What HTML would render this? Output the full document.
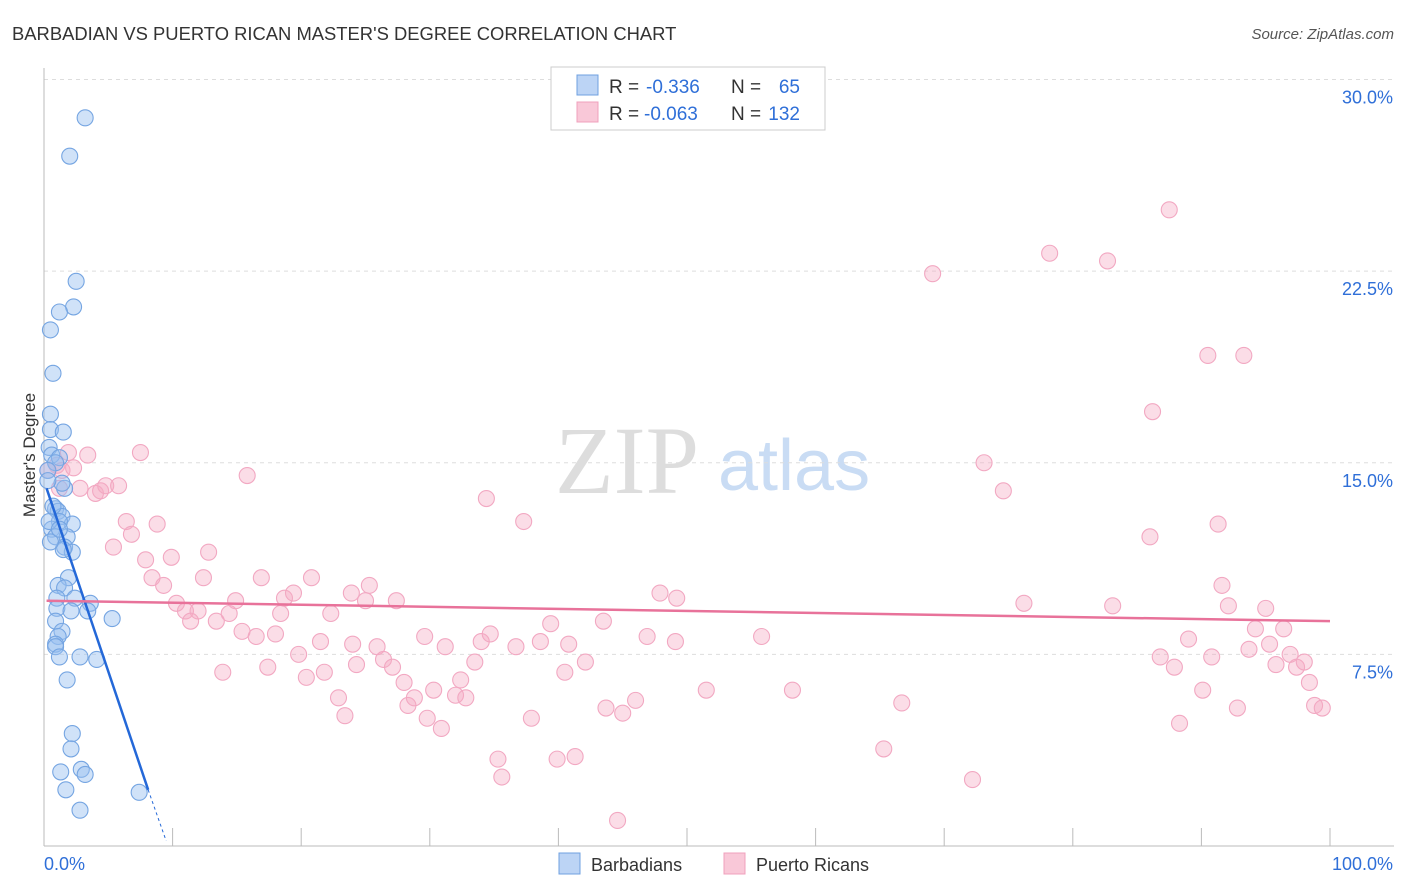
<!DOCTYPE html>
<html><head><meta charset="utf-8"><style>
body{margin:0;background:#fff;font-family:"Liberation Sans",sans-serif}
svg{display:block}
</style></head><body>
<svg width="1406" height="892" xmlns="http://www.w3.org/2000/svg">
<text x="12" y="40" font-size="18.4" fill="#333">BARBADIAN VS PUERTO RICAN MASTER'S DEGREE CORRELATION CHART</text>
<text x="1394" y="39" font-size="15" fill="#555" text-anchor="end" font-style="italic">Source: ZipAtlas.com</text>
<g>
<text x="555" y="493" font-size="96" font-family="Liberation Serif,serif" fill="#ddd">ZIP</text>
<text x="718" y="490" font-size="72" fill="#c9dcf4">atlas</text>
</g>
<g id="grid"></g>
<g id="axes"></g>
<g id="pts"></g>
<g id="trend"></g>
<text x="35" y="455" font-size="17" fill="#333" transform="rotate(-90 35 455)" text-anchor="middle">Master's Degree</text>
<g font-size="19">
<rect x="551" y="67" width="274" height="63" fill="#fff" stroke="#ccc"/>
<rect x="577" y="75" width="21" height="20" fill="#bcd4f5" stroke="#6fa0e0"/>
<rect x="577" y="102" width="21" height="20" fill="#f9c8d8" stroke="#f0a0bc"/>
<text x="609" y="93" fill="#333">R =</text><text x="646" y="93" fill="#2f6fd8">-0.336</text>
<text x="731" y="93" fill="#333">N =</text><text x="800" y="93" fill="#2f6fd8" text-anchor="end">65</text>
<text x="609" y="120" fill="#333">R =</text><text x="644" y="120" fill="#2f6fd8">-0.063</text>
<text x="731" y="120" fill="#333">N =</text><text x="800" y="120" fill="#2f6fd8" text-anchor="end">132</text>
</g>
<g>
<rect x="559" y="853" width="21" height="21" fill="#bcd4f5" stroke="#6fa0e0"/>
<text x="591" y="871" font-size="18" fill="#333">Barbadians</text>
<rect x="724" y="853" width="21" height="21" fill="#f9c8d8" stroke="#f0a0bc"/>
<text x="756" y="871" font-size="18" fill="#333">Puerto Ricans</text>
</g>
</svg>
<script>
const yTicks=[7.5,15,22.5,30];
const yTickLabels=["7.5%","15.0%","22.5%","30.0%"];
const xTickLabels=["0.0%","100.0%"];
const blueX=[3.2,2.0,2.5,2.3,1.2,0.5,0.7,0.5,0.5,1.5,0.4,0.6,1.2,0.9,0.3,1.6,1.4,0.9,1.1,1.4,2.2,1.2,0.6,0.9,1.8,1.6,2.2,1.5,0.5,1.9,1.1,1.6,1.0,2.4,3.6,1.0,2.1,3.4,0.9,5.3,1.4,1.1,0.9,0.9,2.8,1.2,4.1,1.8,2.2,2.1,1.3,2.9,3.2,1.7,2.8,7.4,0.3,0.7,0.4,1.2];
const blueY=[28.5,27.0,22.1,21.1,20.9,20.2,18.5,16.9,16.3,16.2,15.6,15.3,15.2,15.0,14.7,14.0,14.2,13.2,13.1,12.9,12.6,12.7,12.4,12.1,12.1,11.7,11.5,11.6,11.9,10.5,10.2,10.1,9.7,9.7,9.5,9.3,9.2,9.2,8.8,8.9,8.4,8.2,7.9,7.8,7.4,7.4,7.3,6.5,4.4,3.8,2.9,3.0,2.8,2.2,1.4,2.1,14.3,13.3,12.7,12.4];
const pinkX=[0.3,1.0,1.4,1.9,2.3,3.4,1.2,2.8,4.0,4.4,4.8,5.8,7.5,15.8,6.4,8.8,5.4,6.8,7.9,9.9,12.8,8.4,9.3,12.4,16.9,20.8,10.3,11.0,11.98,14.9,18.7,19.4,23.9,25.3,25.0,27.4,11.4,13.4,14.4,15.4,16.5,18.0,18.4,22.3,21.5,24.0,25.9,29.6,31.2,34.0,34.7,36.7,38.6,39.4,40.8,43.5,46.9,49.1,55.8,47.9,49.2,13.9,17.4,19.8,20.4,21.8,22.9,23.4,24.3,26.4,27.1,28.0,28.3,28.8,29.8,30.3,30.9,32.0,32.4,32.8,33.5,34.4,37.3,35.3,35.6,37.9,39.9,40.5,41.3,42.1,43.7,44.6,45.0,46.0,51.5,58.2,65.3,66.7,69.1,72.2,73.1,74.6,76.2,78.2,82.7,83.1,86.0,86.2,87.5,90.5,93.3,91.3,91.6,92.1,89.0,86.8,87.9,90.8,90.1,88.3,92.8,93.7,94.2,95.0,95.3,95.8,96.4,96.9,97.4,98.0,98.4,98.8,99.4];
const pinkY=[14.7,14.9,14.7,15.4,14.8,15.3,14.0,14.0,13.8,13.9,14.1,14.1,15.4,14.5,12.7,12.6,11.7,12.2,11.2,11.3,11.5,10.5,10.2,10.5,10.5,10.5,9.5,9.2,9.2,9.6,9.7,9.9,9.9,10.2,9.6,9.6,8.8,8.8,9.1,8.4,8.2,8.3,9.1,9.1,8.0,7.9,7.8,8.2,7.8,8.0,8.3,7.8,8.0,8.7,7.9,8.8,8.2,8.0,8.2,9.9,9.7,6.8,7.0,7.5,6.6,6.8,5.8,5.1,7.1,7.3,7.0,6.4,5.5,5.8,5.0,6.1,4.6,5.9,6.5,5.8,7.2,13.6,12.7,3.4,2.7,5.0,3.4,6.8,3.5,7.2,5.4,1.0,5.2,5.7,6.1,6.1,3.8,5.6,22.4,2.6,15.0,13.9,9.5,23.2,22.9,9.4,12.1,17.0,24.9,19.2,19.2,12.6,10.2,9.4,8.1,7.4,7.0,7.4,6.1,4.8,5.4,7.7,8.5,9.3,7.9,7.1,8.5,7.5,7.0,7.2,6.4,5.5,5.4,4.6];
const NS='http://www.w3.org/2000/svg';
const X=v=>44+v*12.86, Y=v=>846-v*25.55;
function mk(t,a,p){const e=document.createElementNS(NS,t);for(const k in a)e.setAttribute(k,a[k]);p.appendChild(e);return e;}
const grid=document.getElementById('grid'),axes=document.getElementById('axes');
yTicks.forEach((t,i)=>{
 const l=mk('line',{x1:44,x2:1394,y1:Y(t),y2:Y(t),stroke:'#ddd','stroke-dasharray':'4,4'},grid);
 
 
 const tx=mk('text',{x:1393,y:Y(t)+24,'font-size':18,fill:'#2f6fd8','text-anchor':'end'},axes);
 tx.textContent=yTickLabels[i];
 
 
});
mk('line',{x1:44,x2:44,y1:68,y2:846,stroke:'#bbb'},axes);
mk('line',{x1:44,x2:1394,y1:846,y2:846,stroke:'#bbb'},axes);
for(let i=1;i<=10;i++)mk('line',{x1:X(i*10),x2:X(i*10),y1:828,y2:846,stroke:'#bbb'},axes);
[[44,'start'],[1393,'end']].forEach((p,i)=>{const t=mk('text',{x:p[0],y:870,'font-size':18,fill:'#2f6fd8','text-anchor':p[1]},axes);t.textContent=xTickLabels[i];
 
 });
const pts=document.getElementById('pts');
pinkX.forEach((v,i)=>{const c=mk('circle',{cx:X(v),cy:Y(pinkY[i]),r:8,fill:'rgba(246,170,196,0.4)',stroke:'#f2a8c2','stroke-width':1.1},pts);
 
 });
blueX.forEach((v,i)=>{const c=mk('circle',{cx:X(v),cy:Y(blueY[i]),r:8,fill:'rgba(150,190,240,0.45)',stroke:'#75a5e2','stroke-width':1.1},pts);
 
 });
const tr=document.getElementById('trend');
const b=mk('line',{x1:X(0.2),y1:Y(14.0),x2:X(8.1),y2:Y(2.2),stroke:'#2468d8','stroke-width':2.5},tr);


mk('line',{x1:X(8.1),y1:Y(2.2),x2:X(9.5),y2:Y(0.2),stroke:'#2468d8','stroke-width':1,'stroke-dasharray':'3,3'},tr);
const p=mk('line',{x1:X(0.2),y1:Y(9.6),x2:X(100),y2:Y(8.8),stroke:'#e8729a','stroke-width':2.5},tr);


</script>
</body></html>
